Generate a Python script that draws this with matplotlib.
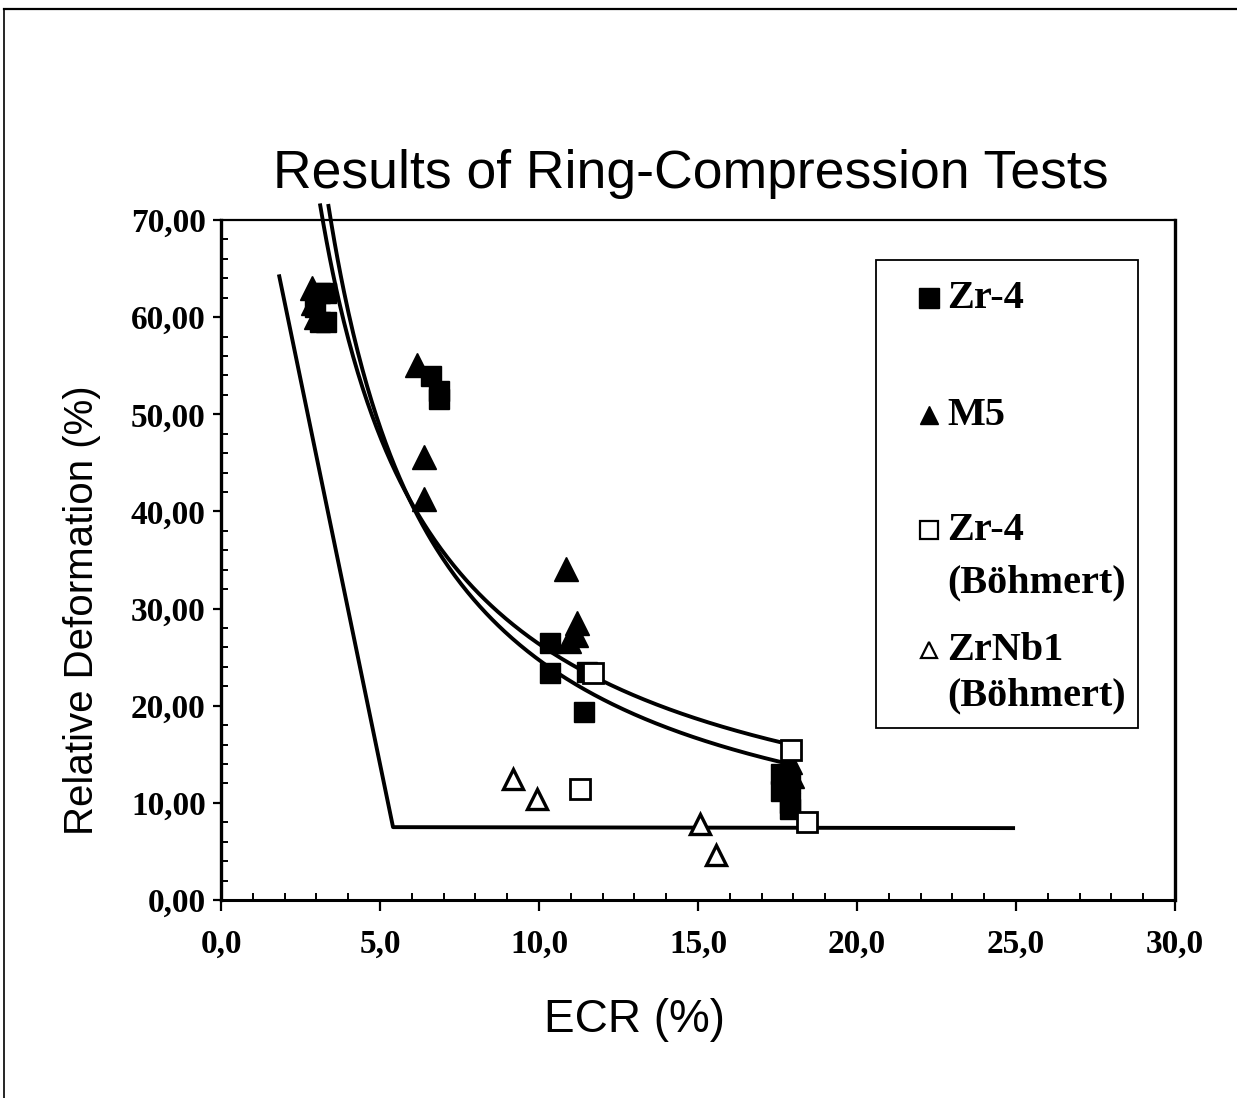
import matplotlib
matplotlib.use("Agg")
import matplotlib.pyplot as plt
import numpy as np
from matplotlib.ticker import MultipleLocator, FuncFormatter
from matplotlib.lines import Line2D
from matplotlib.patches import Rectangle

# Ring-compression results: ECR (%) vs relative deformation (%)
zr4_x = [2.95, 3.1, 3.3, 3.1, 3.3, 6.6, 6.86, 6.86, 10.35, 10.35, 11.5, 11.4,
         17.6, 17.6, 17.9, 17.9, 17.9]
zr4_y = [61.0, 62.5, 62.5, 59.5, 59.5, 53.9, 52.4, 51.6, 26.5, 23.4, 23.5, 19.4,
         13.0, 11.2, 12.0, 10.0, 9.4]

m5_x = [2.85, 2.9, 3.0, 6.15, 6.38, 6.38, 10.85, 11.2, 11.15, 10.95, 17.9, 17.95]
m5_y = [63.0, 61.5, 60.0, 55.1, 45.6, 41.3, 34.1, 28.5, 27.3, 26.7, 14.2, 12.8]

zr4_boehmert_x = [11.7, 11.29, 17.92, 18.43]
zr4_boehmert_y = [23.4, 11.4, 15.4, 8.0]

zrnb1_boehmert_x = [9.18, 9.94, 15.06, 15.57]
zrnb1_boehmert_y = [12.5, 10.4, 7.8, 4.6]

# Lower bound line (piecewise linear)
limit_x = [1.82, 5.41, 24.97]
limit_y = [64.4, 7.5, 7.4]

# Power trendlines y = a * x**b, with their x extent
trend_a = [189.6, 235.4]
trend_b = [-0.857, -0.979]
trend_xmin = [3.12, 3.38]
trend_xmax = [17.9, 17.9]

x_ticks = [0, 5, 10, 15, 20, 25, 30]
y_ticks = [0, 10, 20, 30, 40, 50, 60, 70]

W, H = 1237, 1098
fig = plt.figure(figsize=(W / 100, H / 100), dpi=100)
ax = fig.add_axes([221 / W, 1 - 900 / H, (1175 - 221) / W, (900 - 220) / H])

serif_bold = dict(family="Liberation Serif", weight="bold")

# Lines
ax.plot(limit_x, limit_y, color="black", lw=2.8, solid_capstyle="butt", zorder=2)
for a, b, x0, x1 in zip(trend_a, trend_b, trend_xmin, trend_xmax):
    xs = np.linspace(x0, x1, 300)
    ax.plot(xs, a * xs ** b, color="black", lw=2.8, zorder=2, clip_on=False)

# Markers
ax.plot(zr4_x, zr4_y, ls="none", marker="s", ms=15, mfc="black", mec="black", zorder=3)
ax.plot(m5_x, m5_y, ls="none", marker="^", ms=17, mfc="black", mec="black", zorder=3)
ax.plot(zr4_boehmert_x, zr4_boehmert_y, ls="none", marker="s", ms=14.5, mfc="white",
        mec="black", mew=2.0, zorder=4)
ax.plot(zrnb1_boehmert_x, zrnb1_boehmert_y, ls="none", marker="^", ms=14, mfc="white",
        mec="black", mew=2.4, zorder=4)

ax.set_xlim(0, 30)
ax.set_ylim(0, 70)
ax.set_xticks(x_ticks)
ax.set_yticks(y_ticks)
ax.xaxis.set_minor_locator(MultipleLocator(1))
ax.yaxis.set_minor_locator(MultipleLocator(2))
ax.xaxis.set_major_formatter(FuncFormatter(lambda v, p: f"{v:.1f}".replace(".", ",")))
ax.yaxis.set_major_formatter(FuncFormatter(lambda v, p: f"{v:.2f}".replace(".", ",")))

ax.tick_params(which="major", direction="out", width=1.6, colors="black")
ax.tick_params(axis="x", which="major", length=8, pad=13)
ax.tick_params(axis="y", which="major", length=6, pad=5)
ax.tick_params(which="minor", direction="in", length=5, width=1.4)
for lab in ax.get_xticklabels() + ax.get_yticklabels():
    lab.set_fontfamily("Liberation Serif")
    lab.set_fontweight("bold")
    lab.set_fontsize(24)

for side, lw in [("left", 2.4), ("bottom", 2.2), ("right", 2.4), ("top", 1.6)]:
    ax.spines[side].set_linewidth(lw)
    ax.spines[side].set_color("black")

ax.set_xlabel("ECR (%)", family="Liberation Sans", fontsize=33)
ax.xaxis.set_label_coords((635 - 221) / 954, -(1020 - 900) / 680)
ax.xaxis.label.set_va("center")
ax.set_ylabel("Relative Deformation (%)", family="Liberation Sans", fontsize=29)
ax.yaxis.set_label_coords((82 - 221) / 954, (900 - 610) / 680)
ax.yaxis.label.set_va("center")

fig.text(691 / W, 1 - 174 / H, "Results of Ring-Compression Tests",
         family="Liberation Sans", fontsize=38.5, ha="center", va="center")

# Legend box drawn in axes coordinates
def ax_xy(px, py):
    return (px - 221) / 954, (900 - py) / 680

lx0, ly0 = ax_xy(876, 728)
lx1, ly1 = ax_xy(1138, 260)
ax.add_patch(Rectangle((lx0, ly0), lx1 - lx0, ly1 - ly0, transform=ax.transAxes,
                       facecolor="white", edgecolor="black", lw=1.3, zorder=5))

legend_entries = [
    (["Zr-4"], [0], "s", 14, "black", 1.0, 298),
    (["M5"], [0], "^", 13, "black", 1.0, 415),
    (["Zr-4", "(Böhmert)"], [0, 53], "s", 13, "white", 1.6, 530),
    (["ZrNb1", "(Böhmert)"], [0, 46], "^", 11, "white", 1.6, 650),
]
for lines, gaps, mk, ms, fc, mew, py in legend_entries:
    mx, my = ax_xy(929, py)
    ax.plot([mx], [my], transform=ax.transAxes, marker=mk, ms=ms, mfc=fc, mec="black",
            mew=mew, ls="none", clip_on=False, zorder=6)
    for txt, gap in zip(lines, gaps):
        tx, ty = ax_xy(947, py + gap)
        ax.text(tx, ty, txt, transform=ax.transAxes, ha="left", va="center",
                fontsize=29, zorder=6, **serif_bold)

# Page frame lines (top and left)
fig.add_artist(Line2D([4 / W, 1.0], [1 - 9 / H, 1 - 9 / H], color="black", lw=1.6))
fig.add_artist(Line2D([4 / W, 4 / W], [0.0, 1 - 9 / H], color="black", lw=1.2))

fig.savefig("out.png", dpi=100, facecolor="white")
